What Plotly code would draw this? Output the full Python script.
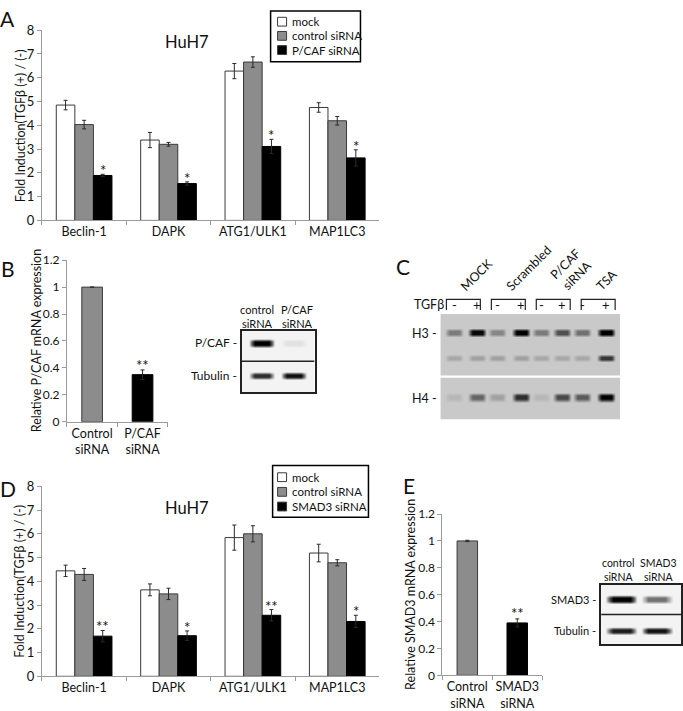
import plotly.graph_objects as go

W, H = 683, 711
FONT = "Lato"
TXT = "#111111"
AXC = "#9a9a9a"
GRAY = "#8c8c8c"
OUTL = "#3a3a3a"

# ---------------- data ----------------
genes = ["Beclin-1", "DAPK", "ATG1/ULK1", "MAP1LC3"]

series_A = ["mock", "control siRNA", "P/CAF siRNA"]
A_mock = [4.85, 3.38, 6.28, 4.75]
A_mock_err = [0.20, 0.32, 0.32, 0.20]
A_ctrl = [4.03, 3.20, 6.66, 4.19]
A_ctrl_err = [0.18, 0.08, 0.22, 0.18]
A_pcaf = [1.89, 1.55, 3.11, 2.63]
A_pcaf_err = [0.05, 0.07, 0.30, 0.34]
A_sig = ["*", "*", "*", "*"]

series_D = ["mock", "control siRNA", "SMAD3 siRNA"]
D_mock = [4.44, 3.64, 5.84, 5.19]
D_mock_err = [0.24, 0.25, 0.53, 0.37]
D_ctrl = [4.29, 3.47, 6.00, 4.78]
D_ctrl_err = [0.25, 0.24, 0.34, 0.13]
D_smad = [1.69, 1.71, 2.57, 2.31]
D_smad_err = [0.24, 0.20, 0.24, 0.26]
D_sig = ["**", "*", "**", "*"]

B_cats = ["Control<br>siRNA", "P/CAF<br>siRNA"]
B_vals = [1.0, 0.35]
B_err = [0.0, 0.035]
B_sig = ["", "**"]

E_cats = ["Control<br>siRNA", "SMAD3<br>siRNA"]
E_vals = [1.0, 0.39]
E_err = [0.005, 0.03]
E_sig = ["", "**"]

# western blots (band intensity 0 = background, 1 = black)
B_blot_lanes = ["control<br>siRNA", "P/CAF<br>siRNA"]
B_blot_rows = ["P/CAF -", "Tubulin -"]
B_blot_int = [[1.0, 0.06], [0.75, 0.92]]

E_blot_lanes = ["control<br>siRNA", "SMAD3<br>siRNA"]
E_blot_rows = ["SMAD3 -", "Tubulin -"]
E_blot_int = [[1.0, 0.42], [0.85, 0.9]]

C_groups = ["MOCK", "Scrambled", "P/CAF<br>siRNA", "TSA"]
C_tgfb = ["-", "+", "-", "+", "-", "+", "-", "+"]
C_H3_upper = [0.35, 0.95, 0.30, 1.0, 0.35, 0.55, 0.40, 1.0]
C_H3_lower = [0.15, 0.18, 0.18, 0.18, 0.15, 0.15, 0.15, 0.70]
C_H4 = [0.08, 0.45, 0.18, 0.75, 0.08, 0.60, 0.50, 1.0]


def px(x):
    return x / W


def py(y):
    return 1 - y / H


fig = go.Figure()

BARGAP = 0.34


def add_grouped(vals, errs, names, xa, ya):
    fills = ["white", GRAY, "black"]
    lines = [OUTL, OUTL, "black"]
    for v, e, n, f, l in zip(vals, errs, names, fills, lines):
        fig.add_trace(go.Bar(
            x=genes, y=v, name=n, xaxis=xa, yaxis=ya, showlegend=False,
            marker=dict(color=f, line=dict(color=l, width=1)),
            error_y=dict(type="data", array=e, color="#2a2a2a", thickness=1, width=2),
        ))


add_grouped([A_mock, A_ctrl, A_pcaf], [A_mock_err, A_ctrl_err, A_pcaf_err], series_A, "x", "y")
add_grouped([D_mock, D_ctrl, D_smad], [D_mock_err, D_ctrl_err, D_smad_err], series_D, "x6", "y6")

fig.add_trace(go.Bar(x=B_cats, y=B_vals, width=0.41, xaxis="x2", yaxis="y2", showlegend=False,
                     marker=dict(color=[GRAY, "black"], line=dict(color=[OUTL, "black"], width=1)),
                     error_y=dict(type="data", array=B_err, color="#2a2a2a", thickness=1, width=2)))
fig.add_trace(go.Bar(x=E_cats, y=E_vals, width=0.41, xaxis="x7", yaxis="y7", showlegend=False,
                     marker=dict(color=[GRAY, "black"], line=dict(color=[OUTL, "black"], width=1)),
                     error_y=dict(type="data", array=E_err, color="#2a2a2a", thickness=1, width=2)))


# ---------------- blots as smoothed heatmaps ----------------
def blot_grid(rows, lane_c, lane_hw, row_c, row_hh, xmax, ymax, xcore=0.55, ycore=0.3):
    xs, xl, xw = [0.0], [None], [0.0]
    for i, c in enumerate(lane_c):
        for dx, w in [(-lane_hw, 0), (-lane_hw * xcore, 1), (lane_hw * xcore, 1), (lane_hw, 0)]:
            xs.append(c + dx); xl.append(i); xw.append(w)
    xs.append(xmax); xl.append(None); xw.append(0.0)
    ys, yl, yw = [0.0], [None], [0.0]
    for r, c in enumerate(row_c):
        for dy, w in [(-row_hh, 0), (-row_hh * ycore, 1), (row_hh * ycore, 1), (row_hh, 0)]:
            ys.append(c + dy); yl.append(r); yw.append(w)
    ys.append(ymax); yl.append(None); yw.append(0.0)
    z = []
    for j in range(len(ys)):
        rowz = []
        for i in range(len(xs)):
            if yl[j] is None or xl[i] is None:
                rowz.append(0.0)
            else:
                rowz.append(rows[yl[j]][xl[i]] * yw[j] * xw[i])
        z.append(rowz)
    return xs, ys, z


def add_blot(rows, lane_c, lane_hw, row_c, row_hh, xmax, ymax, xa, ya, bg):
    xs, ys, z = blot_grid(rows, lane_c, lane_hw, row_c, row_hh, xmax, ymax)
    fig.add_trace(go.Heatmap(x=xs, y=ys, z=z, zmin=0, zmax=1, zsmooth="best", showscale=False,
                             colorscale=[[0, bg], [0.5, "#5a5a5a"], [1, "#000000"]],
                             xaxis=xa, yaxis=ya, hoverinfo="skip"))


C_lane_c = [0.62, 1.64, 2.53, 3.6, 4.49, 5.42, 6.31, 7.38]
add_blot([C_H3_upper, C_H3_lower], C_lane_c, 0.42, [0.60, 1.43], 0.14, 8, 2, "x3", "y3", "#c9c9c9")
add_blot([C_H4], C_lane_c, 0.42, [0.47], 0.12, 8, 1, "x4", "y4", "#c9c9c9")
add_blot(B_blot_int, [0.55, 1.42], 0.36, [0.40, 1.46], 0.14, 2, 2, "x5", "y5", "#f3f3f3")
add_blot(E_blot_int, [0.51, 1.39], 0.40, [0.49, 1.54], 0.14, 2, 2, "x8", "y8", "#f3f3f3")

# ---------------- axes ----------------
nog = dict(showgrid=False, zeroline=False)


def cat_x(d0, d1, anchor):
    return dict(domain=[px(d0), px(d1)], anchor=anchor, showline=True, linecolor=AXC, linewidth=1,
                ticks="outside", tickson="boundaries", ticklen=4, tickcolor=AXC, tickangle=0,
                tickfont=dict(family=FONT, size=12.5, color=TXT), **nog)


def val_y(top, bottom, anchor, rng, dtick, size):
    return dict(domain=[py(bottom), py(top)], anchor=anchor, range=rng, dtick=dtick, showline=True,
                linecolor=AXC, linewidth=1, ticks="outside", ticklen=4, tickcolor=AXC,
                tickfont=dict(family=FONT, size=size, color=TXT), **nog)


def blot_x(d0, d1, anchor, xmax, border):
    return dict(domain=[px(d0), px(d1)], anchor=anchor, range=[0, xmax], showticklabels=False, ticks="",
                showline=border, mirror=border, linecolor="#222", linewidth=1.5, **nog)


def blot_y(top, bottom, anchor, ymax, border):
    return dict(domain=[py(bottom), py(top)], anchor=anchor, range=[ymax, 0], showticklabels=False, ticks="",
                showline=border, mirror=border, linecolor="#222", linewidth=1.5, **nog)


fig.update_layout(
    width=W, height=H, margin=dict(l=0, r=0, t=0, b=0),
    paper_bgcolor="white", plot_bgcolor="rgba(0,0,0,0)",
    barmode="group", bargap=BARGAP, bargroupgap=0,
    font=dict(family=FONT, color=TXT),
    xaxis=cat_x(42, 380, "y"), yaxis=val_y(22.7, 217.3, "x", [0, 8], 1, 13),
    xaxis2=cat_x(67, 168, "y2"), yaxis2=val_y(258, 423.3, "x2", [0, 1.2], 0.2, 12),
    xaxis3=blot_x(441, 621, "y3", 8, False), yaxis3=blot_y(313, 376, "x3", 2, False),
    xaxis4=blot_x(441, 621, "y4", 8, False), yaxis4=blot_y(378, 421, "x4", 1, False),
    xaxis5=blot_x(242, 315, "y5", 2, True), yaxis5=blot_y(330, 393, "x5", 2, True),
    xaxis6=cat_x(42, 380, "y6"), yaxis6=val_y(489.3, 683.7, "x6", [0, 8], 1, 13),
    xaxis7=cat_x(443, 543, "y7"), yaxis7=val_y(517.7, 682.7, "x7", [0, 1.2], 0.2, 12),
    xaxis8=blot_x(602, 682, "y8", 2, True), yaxis8=blot_y(590, 651, "x8", 2, True),
)

ann = []
shapes = []


def txt(x, y, s, size=12, xa="center", ya="middle", angle=0, xref="paper", yref="paper", **kw):
    ann.append(dict(x=x, y=y, text=s, showarrow=False, xref=xref, yref=yref, xanchor=xa, yanchor=ya,
                    textangle=angle, font=dict(family=FONT, size=size, color=TXT), **kw))


# panel letters
for L, (x, y) in zip("ABCDE", [(8, 11), (8, 266), (404, 264), (8, 492), (410, 488)]):
    txt(px(x), py(y), L, size=21)

# titles / axis titles
txt(px(187), py(35), "HuH7", size=16.5)
txt(px(187), py(512), "HuH7", size=16.5)
txt(px(20), py(120), "Fold Induction(TGFβ (+) / (-)", size=12.5, angle=-90)
txt(px(20), py(586), "Fold Induction(TGFβ (+) / (-)", size=12.5, angle=-90)
txt(px(36), py(340), "Relative P/CAF mRNA expression", size=12.5, angle=-90)
txt(px(411), py(600), "Relative SMAD3 mRNA expression", size=12.5, angle=-90)

# significance stars
cat_w_px = (380 - 42) / len(genes)
bar_w_px = cat_w_px * (1 - BARGAP) / 3
for g, v, e, s in zip(genes, A_pcaf, A_pcaf_err, A_sig):
    txt(g, v + e, s, size=15, ya="bottom", xref="x", yref="y", xshift=bar_w_px, yshift=-7)
for g, v, e, s in zip(genes, D_smad, D_smad_err, D_sig):
    txt(g, v + e, s, size=15, ya="bottom", xref="x6", yref="y6", xshift=bar_w_px, yshift=-7)
for c, v, e, s in zip(B_cats, B_vals, B_err, B_sig):
    if s:
        txt(c, v + e, s, size=15, ya="bottom", xref="x2", yref="y2", yshift=-6)
for c, v, e, s in zip(E_cats, E_vals, E_err, E_sig):
    if s:
        txt(c, v + e, s, size=15, ya="bottom", xref="x7", yref="y7", yshift=-5)


# manual legends
def legend(x0, y0, x1, y1, names, ycent):
    shapes.append(dict(type="rect", xref="paper", yref="paper", x0=px(x0), x1=px(x1), y0=py(y0), y1=py(y1),
                       line=dict(color="black", width=1.5), fillcolor="white"))
    for n, yc, f in zip(names, ycent, ["white", GRAY, "black"]):
        shapes.append(dict(type="rect", xref="paper", yref="paper", x0=px(278), x1=px(287),
                           y0=py(yc + 4.5), y1=py(yc - 4.5), line=dict(color=OUTL, width=1), fillcolor=f))
        txt(px(290), py(yc), n, size=11.5, xa="left")


legend(271, 3, 361, 55, series_A, [14, 28.5, 43])
legend(273, 468, 369, 521, series_D, [480, 495, 510])

# blot labels B
for lab, xc in zip(B_blot_lanes, [257, 297]):
    txt(px(xc), py(315.5), lab, size=11)
for lab, yc in zip(B_blot_rows, [0.40, 1.46]):
    txt(px(239), yc, lab, size=12, xa="right", yref="y5")
shapes.append(dict(type="line", xref="x5", yref="y5", x0=0, x1=2, y0=1, y1=1, line=dict(color="#222", width=1.5)))

# blot labels E
for lab, xc in zip(E_blot_lanes, [619, 659]):
    txt(px(xc), py(575), lab, size=10.5)
for lab, yc in zip(E_blot_rows, [0.49, 1.54]):
    txt(px(599), yc, lab, size=11, xa="right", yref="y8")
shapes.append(dict(type="line", xref="x8", yref="y8", x0=0, x1=2, y0=1, y1=1, line=dict(color="#222", width=1.5)))

# C labels
txt(px(430), py(303), "TGFβ", size=12.5)
for s, xc in zip(C_tgfb, C_lane_c):
    txt(xc, py(304), s, size=13, xref="x3")
for k, g in enumerate(C_groups):
    x0, x1 = 2 * k + 0.27, 2 * k + 1.78
    shapes.append(dict(type="path", xref="x3", yref="paper",
                       path=f"M{x0},{py(309)} L{x0},{py(298)} L{x1},{py(298)} L{x1},{py(309)}",
                       line=dict(color="#222", width=1.2)))
    txt(2 * k + 0.65, py(295), g, size=12.5, angle=-45, xa="left", ya="bottom", xref="x3")
txt(px(440), py(333), "H3 -", size=12.5, xa="right")
txt(px(440), py(399), "H4 -", size=12.5, xa="right")

fig.update_layout(annotations=ann, shapes=shapes)
fig.write_html("out.html", config={"displayModeBar": False},
               post_script="document.body.style.margin='0px';document.body.style.overflow='hidden';")
